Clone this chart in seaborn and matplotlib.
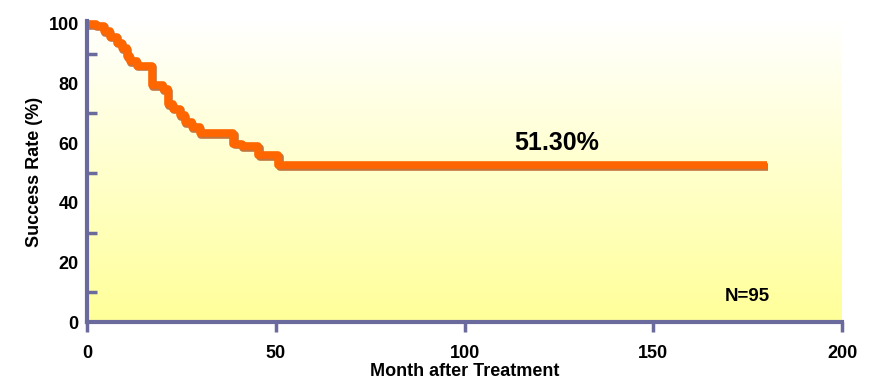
import numpy as np
import pandas as pd
import seaborn as sns
import matplotlib.pyplot as plt
import matplotlib.patheffects as pe
from matplotlib.colors import LinearSegmentedColormap

# step curve (month, success rate %)
months = [0, 2.4, 4.5, 6.1, 7.9, 9.2, 10.5, 11.4, 13.2, 17.1, 20.2, 21.5,
          22.8, 24.6, 26.0, 27.7, 29.9, 38.8, 41.0, 45.4, 50.7, 180]
success = [100, 99.4, 97.6, 95.7, 93.7, 92.0, 89.3, 87.6, 86.0, 79.5, 78.2, 73.2,
           71.6, 69.4, 67.1, 65.4, 63.5, 59.9, 59.1, 56.1, 52.6, 52.6]
x_ticks = [0, 50, 100, 150, 200]
y_ticks = [0, 20, 40, 60, 80, 100]
final_label = "51.30%"
n_label = "N=95"

sns.set_theme(style="white")
plt.rcParams['font.family'] = ['Liberation Sans', 'DejaVu Sans']
plt.rcParams['text.color'] = 'black'
plt.rcParams['axes.labelcolor'] = 'black'
plt.rcParams['xtick.labelcolor'] = 'black'
plt.rcParams['ytick.labelcolor'] = 'black'

df = pd.DataFrame({"Month": months, "Success": success})

fig = plt.figure(figsize=(8.72, 3.82), dpi=100)
ax = fig.add_axes([0.0998, 0.1563, 0.8658, 0.7887])

# white-to-yellow background
grad = LinearSegmentedColormap.from_list("bg", ["#FFFF99", "#FFFFFF"])
ax.imshow(np.linspace(0, 1, 256).reshape(-1, 1), cmap=grad, origin="lower",
          extent=[0, 200, 0, 101], aspect="auto", zorder=0)

axis_col = "#6A6A9C"
sns.lineplot(data=df, x="Month", y="Success", drawstyle="steps-post",
             color="#FF6600", linewidth=5.5, solid_capstyle="butt", clip_on=False,
             path_effects=[pe.SimpleLineShadow(offset=(0.8, -1.2), shadow_color="#A83C00", alpha=0.7),
                           pe.Normal()],
             zorder=3, ax=ax)

ax.set_xlim(0, 200)
ax.set_ylim(0, 101)
ax.set_xticks(x_ticks)
ax.set_yticks(y_ticks)
ax.set_yticks(range(10, 100, 20), minor=True)

for s in ["top", "right"]:
    ax.spines[s].set_visible(False)
for s in ["left", "bottom"]:
    ax.spines[s].set_color(axis_col)
    ax.spines[s].set_linewidth(3)
    ax.spines[s].set_zorder(4)

ax.tick_params(axis="x", direction="out", length=7, width=2.5, color=axis_col,
               labelsize=13, pad=9, bottom=True)
ax.tick_params(axis="y", which="both", direction="in", length=7, width=2.5,
               color=axis_col, labelsize=13, pad=6, left=True)
ax.tick_params(axis="y", which="major", length=0)
for lab in ax.get_xticklabels() + ax.get_yticklabels():
    lab.set_fontweight("bold")

ax.set_xlabel("Month after Treatment", fontsize=13, fontweight="bold", labelpad=1)
ax.set_ylabel("Success Rate (%)", fontsize=13, fontweight="bold", labelpad=4)

ax.text(124.5, 60, final_label, fontsize=18, fontweight="bold", ha="center", va="center")
ax.text(175, 8.5, n_label, fontsize=13.5, fontweight="bold", ha="center", va="center")

fig.savefig("out.png", dpi=100)
